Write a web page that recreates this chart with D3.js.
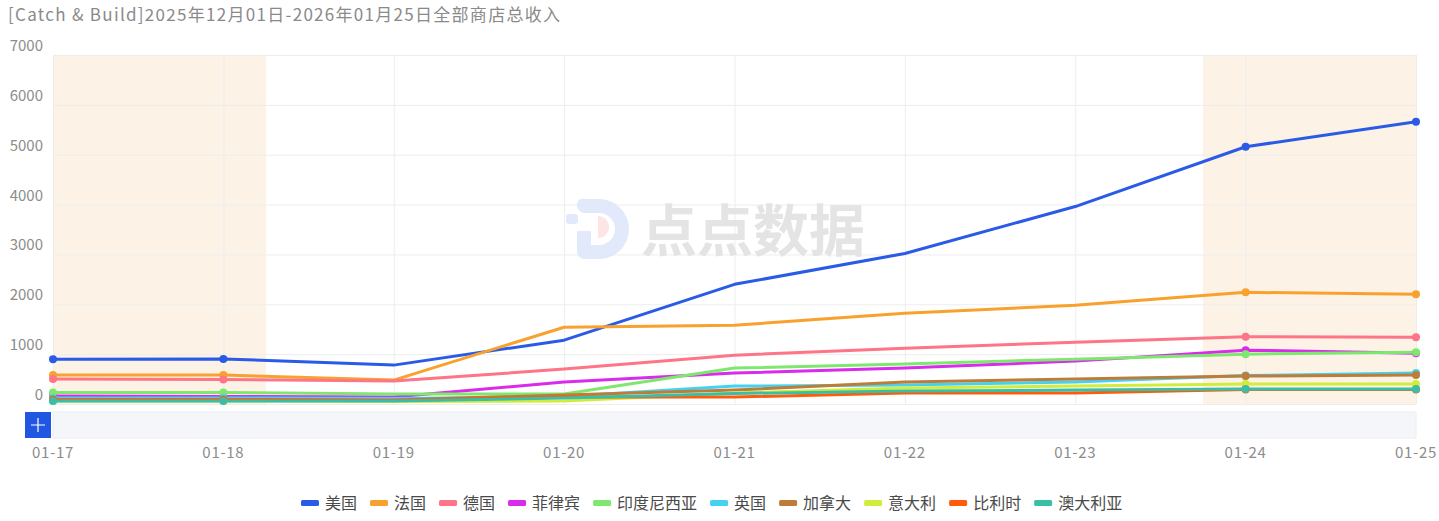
<!DOCTYPE html>
<html>
<head>
  <meta charset="utf-8">
  <title>Catch & Build 全部商店总收入</title>
  <script src="https://d3js.org/d3.v7.min.js"></script>
  <style>
    body { margin: 0; background: #fff; }
    text { font-family: "Noto Sans CJK SC", "Noto Sans", sans-serif; }
    .tick-label { fill: #8c8c8c; font-size: 15px; }
    .grid line { stroke: #ededed; stroke-width: 1px; }
  </style>
</head>
<body>
  <svg width="1439" height="521"></svg>
  <script>
    // data
    const dates = ["01-17", "01-18", "01-19", "01-20", "01-21", "01-22", "01-23", "01-24", "01-25"];
    const weekends = [[0, 1], [7, 8]];
    const yTicks = [0, 1000, 2000, 3000, 4000, 5000, 6000, 7000];

    const countries = ["美国", "法国", "德国", "菲律宾", "印度尼西亚", "英国", "加拿大", "意大利", "比利时", "澳大利亚"];
    const colors = ["#2a5be6", "#f9a12f", "#fd7586", "#d92beb", "#7ee86e", "#45d2f0", "#bd7d39", "#d2ec3e", "#ff5b0a", "#3bbea6"];

    const usa       = [900, 905, 780, 1280, 2400, 3020, 3960, 5160, 5660];
    const france    = [580, 580, 480, 1540, 1580, 1820, 1980, 2240, 2200];
    const germany   = [500, 490, 460, 700, 980, 1120, 1240, 1350, 1340];
    const philip    = [160, 150, 140, 440, 620, 720, 860, 1080, 1020];
    const indonesia = [230, 230, 200, 200, 720, 800, 900, 1000, 1040];
    const uk        = [120, 120, 110, 150, 360, 380, 440, 570, 620];
    const canada    = [90, 90, 80, 180, 280, 440, 500, 560, 580];
    const italy     = [60, 60, 50, 60, 220, 320, 360, 400, 400];
    const belgium   = [80, 80, 70, 140, 140, 220, 220, 290, 290];
    const australia = [60, 60, 60, 120, 210, 260, 280, 300, 300];
    const series = [usa, france, germany, philip, indonesia, uk, canada, italy, belgium, australia];

    const svg = d3.select("svg");
    const plotL = 53, plotR = 1416, plotT = 55, plotB = 404;

    const x = d3.scalePoint().domain(dates).range([plotL, plotR]);
    const y = d3.scaleLinear().domain([0, 7000]).range([plotB, plotT]);
    const step = x.step();

    // title
    svg.append("text")
      .attr("x", 8).attr("y", 21)
      .attr("fill", "#8a8a8a")
      .attr("textLength", 552)
      .attr("lengthAdjust", "spacing")
      .style("font-size", "17px")
      .text("[Catch & Build]2025年12月01日-2026年01月25日全部商店总收入");

    // weekend bands
    const bandX0 = d => Math.max(plotL, x(dates[d[0]]) - step * 0.25);
    const bandX1 = d => Math.min(plotR, x(dates[d[1]]) + step * 0.25);
    svg.append("g").selectAll("rect")
      .data(weekends)
      .join("rect")
      .attr("x", bandX0)
      .attr("width", d => bandX1(d) - bandX0(d))
      .attr("y", plotT)
      .attr("height", plotB - plotT)
      .attr("fill", "#fcf3e6");

    // grid
    const grid = svg.append("g").attr("class", "grid");
    grid.append("g").selectAll("line")
      .data(yTicks)
      .join("line")
      .attr("x1", plotL).attr("x2", plotR)
      .attr("y1", d => y(d) + 0.5).attr("y2", d => y(d) + 0.5);
    grid.append("g").selectAll("line")
      .data(dates)
      .join("line")
      .attr("x1", d => x(d) + 0.5).attr("x2", d => x(d) + 0.5)
      .attr("y1", plotT).attr("y2", plotB);

    // y labels (sit above their gridlines)
    svg.append("g").selectAll("text")
      .data(yTicks)
      .join("text")
      .attr("class", "tick-label")
      .attr("x", 43)
      .attr("y", d => y(d) - 4)
      .attr("text-anchor", "end")
      .text(d => d);

    // watermark
    const wm = svg.append("g").attr("opacity", 0.9);
    wm.append("path")
      .attr("d", "M585,199 h14 a30,30 0 0 1 0,60 h-14 a8,8 0 0 1 -8,-8 v-20 h14 v14 h8 a16,16 0 0 0 0,-32 h-14 a8,8 0 0 1 -8,-8 a6,6 0 0 1 8,-6 z")
      .attr("fill", "#dfe7fb");
    wm.append("rect").attr("x", 566).attr("y", 214).attr("width", 12).attr("height", 10).attr("rx", 3).attr("fill", "#dfe7fb");
    wm.append("path")
      .attr("d", "M598,216 a11,11 0 0 1 0,22 z")
      .attr("fill", "#fde3e3");
    wm.append("text")
      .attr("x", 641).attr("y", 251)
      .attr("fill", "#e2e2e2")
      .style("font-size", "56px")
      .style("font-weight", "bold")
      .text("点点数据");

    // lines
    const line = d3.line()
      .x((d, i) => x(dates[i]))
      .y(d => y(d));

    const lines = svg.append("g");
    series.forEach((s, k) => {
      lines.append("path")
        .datum(s)
        .attr("fill", "none")
        .attr("stroke", colors[k])
        .attr("stroke-width", 3)
        .attr("stroke-linejoin", "round")
        .attr("d", line);
    });

    // dots on weekend points
    const dotIdx = weekends.flat();
    series.forEach((s, k) => {
      lines.append("g").selectAll("circle")
        .data(dotIdx)
        .join("circle")
        .attr("cx", i => x(dates[i]))
        .attr("cy", i => y(s[i]))
        .attr("r", 4)
        .attr("fill", colors[k]);
    });

    // data zoom strip
    svg.append("rect")
      .attr("x", plotL).attr("y", 412)
      .attr("width", plotR - plotL).attr("height", 26)
      .attr("fill", "#f5f6f9")
      .attr("stroke", "#eceef2");
    svg.append("rect")
      .attr("x", 25).attr("y", 412)
      .attr("width", 26).attr("height", 26)
      .attr("fill", "#2156e2");
    svg.append("path")
      .attr("d", "M38,418 v14 M31,425 h14")
      .attr("stroke", "#fff")
      .attr("stroke-width", 1.2);

    // x labels
    svg.append("g").selectAll("text")
      .data(dates)
      .join("text")
      .attr("class", "tick-label")
      .attr("x", d => x(d))
      .attr("y", 458)
      .attr("text-anchor", "middle")
      .style("letter-spacing", "0.7px")
      .text(d => d);

    // legend
    const legend = svg.append("g");
    let lx = 0;
    countries.forEach((c, k) => {
      const g = legend.append("g");
      g.append("rect")
        .attr("x", 0).attr("y", -3)
        .attr("width", 18).attr("height", 6)
        .attr("rx", 1.5)
        .attr("fill", colors[k]);
      const t = g.append("text")
        .attr("x", 24).attr("y", 6)
        .attr("fill", "#4a4a4a")
        .style("font-size", "16px")
        .text(c);
      const w = 24 + t.node().getComputedTextLength();
      g.attr("transform", `translate(${lx},0)`);
      lx += w + 13;
    });
    const total = lx - 13;
    legend.attr("transform", `translate(${Math.round(712 - total / 2)},503)`);
  </script>
</body>
</html>
